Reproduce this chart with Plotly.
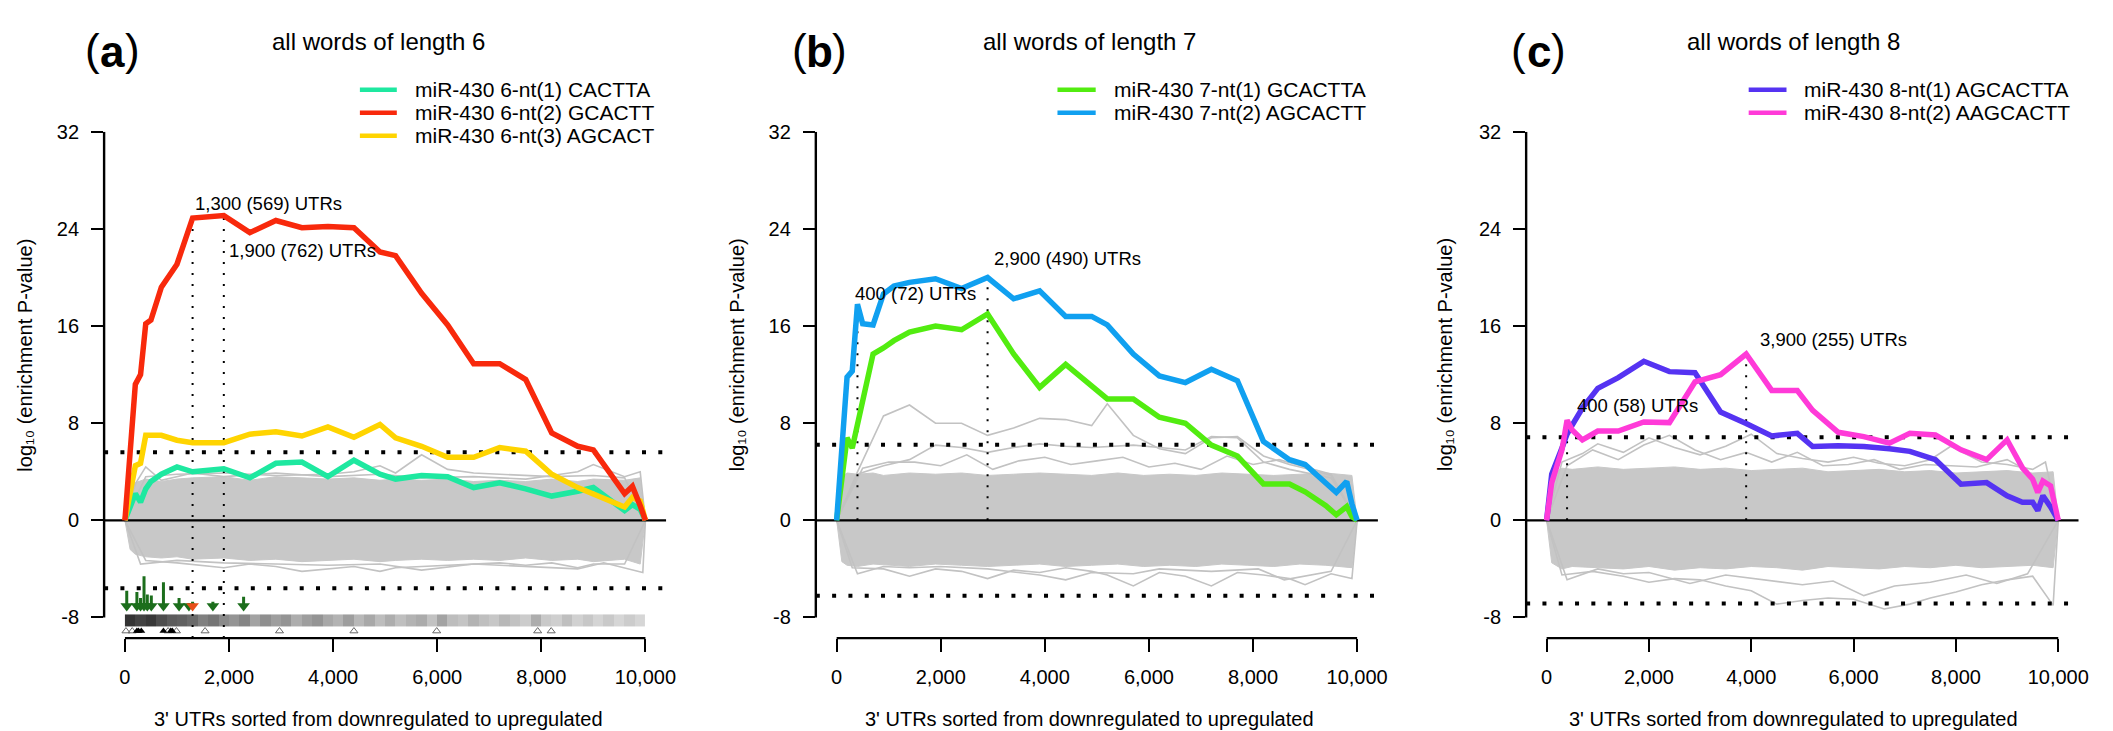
import plotly.graph_objects as go

FIG_W, FIG_H = 2113, 731
FONT = "Liberation Sans, Arial, Helvetica, sans-serif"

# ---------------- shared axes ----------------
X_TICKS = [0, 2000, 4000, 6000, 8000, 10000]
X_TICK_TEXT = ["0", "2,000", "4,000", "6,000", "8,000", "10,000"]
Y_TICKS = [-8, 0, 8, 16, 24, 32]
Y_TICK_TEXT = ["-8", "0", "8", "16", "24", "32"]
X_RANGE = [-400, 10400]
Y_RANGE = [-9.7, 32]

# ---------------- panel (a): words of length 6 ----------------
A_X = [0, 200, 300, 400, 500, 700, 1000, 1300, 1900, 2400, 2900, 3400, 3900, 4400,
       4900, 5200, 5700, 6200, 6700, 7200, 7700, 8200, 8700, 9000, 9600, 9750, 9900, 10000]
A_CACTTA = [0, 2.2, 1.5, 2.6, 3.2, 3.8, 4.4, 4.0, 4.25, 3.5, 4.7, 4.8, 3.6, 4.95,
            3.8, 3.4, 3.7, 3.6, 2.7, 3.1, 2.6, 2.0, 2.4, 2.7, 0.8, 1.3, 0.9, 0]
A_GCACTT = [0, 11.2, 12.0, 16.2, 16.5, 19.2, 21.1, 24.9, 25.1, 23.7, 24.7, 24.1, 24.2, 24.1,
            22.1, 21.8, 18.7, 16.1, 12.9, 12.9, 11.6, 7.2, 6.1, 5.8, 2.2, 2.8, 1.2, 0]
A_AGCACT = [0, 4.5, 4.7, 7.0, 7.0, 7.0, 6.6, 6.4, 6.4, 7.1, 7.3, 6.95, 7.7, 6.85,
            7.9, 6.8, 6.1, 5.2, 5.2, 6.0, 5.7, 3.8, 2.7, 2.2, 1.1, 1.9, 1.6, 0]
A_THRESH = 5.6
A_MARKS = [1300, 1900]
A_MARK_TEXT = ["1,300 (569) UTRs", "1,900 (762) UTRs"]
A_MARK_TEXT_POS = [(1300, 26.1), (1960, 22.2)]

A_BAND_X = [0, 100, 200, 400, 700, 1000, 1300, 1900, 2400, 2900, 3400, 3900, 4400, 4900,
            5200, 5700, 6200, 6700, 7200, 7700, 8200, 8700, 9000, 9600, 9900, 10000]
A_BAND_HI = [0, 2.6, 3.1, 3.4, 3.2, 3.4, 3.5, 3.6, 3.3, 3.6, 3.5, 3.4, 3.5, 3.3,
             3.4, 3.3, 3.4, 3.2, 3.3, 3.2, 3.4, 3.2, 3.4, 3.3, 3.5, 0]
A_BAND_LO = [0, -2.4, -2.8, -3.0, -3.1, -3.0, -3.2, -3.1, -3.3, -3.2, -3.4, -3.3, -3.2, -3.4,
             -3.3, -3.2, -3.3, -3.2, -3.3, -3.1, -3.3, -3.2, -3.4, -3.2, -3.6, 0]
A_BG = [
    ([0, 400, 1000, 1900, 2900, 3900, 4400, 4900, 5200, 5700, 6200, 6700, 7200, 8200, 9000, 9600, 10000],
     [0, 3.6, 3.8, 3.9, 3.7, 3.8, 4.0, 4.5, 3.9, 5.4, 4.2, 3.9, 3.8, 3.6, 3.7, 3.5, 0]),
    ([0, 200, 400, 700, 1300, 1900, 2900, 3900, 4900, 5700, 6700, 7700, 8200, 8700, 9000, 9600, 9900, 10000],
     [0, 3.0, 4.4, 3.3, 3.9, 3.6, 3.9, 3.6, 3.8, 3.5, 3.6, 3.4, 3.7, 4.0, 4.6, 3.6, 4.0, 0]),
    ([0, 400, 1000, 1900, 2400, 2900, 3400, 3900, 4400, 4900, 5200, 5700, 6200, 6700, 7200, 7700, 8200, 8700, 9000, 9600, 10000],
     [0, -3.3, -3.5, -3.9, -3.6, -3.8, -4.2, -4.0, -3.8, -4.2, -3.9, -3.8, -3.7, -3.6, -3.5, -3.7, -3.5, -3.9, -3.6, -3.6, 0]),
    ([0, 300, 1000, 1900, 2900, 3900, 4900, 5700, 6700, 7700, 8700, 9200, 9600, 9950, 10000],
     [0, -3.6, -3.3, -3.5, -3.6, -3.7, -3.6, -4.1, -3.6, -3.8, -4.0, -3.5, -3.9, -4.3, 0]),
]

# site arrows under panel (a)
ARROW_X = [35, 230, 300, 367, 430, 507, 740, 1040, 1230, 1300, 1690, 2280]
ARROW_TOP = [-5.8, -5.9, -6.4, -4.6, -6.1, -6.2, -5.1, -6.4, -6.8, -6.7, -6.7, -6.3]
ARROW_COLOR = ["#1C6E1C"] * 9 + ["#E8501A", "#1C6E1C", "#1C6E1C"]
# barcode strip (darkness per 200-unit block)
STRIP_EDGES = list(range(0, 10001, 200))
STRIP_DARK = [0.8, 0.74, 0.78, 0.7, 0.64, 0.62, 0.58, 0.5, 0.54, 0.46,
              0.42, 0.48, 0.36, 0.44, 0.38, 0.42, 0.32, 0.38, 0.42, 0.34,
              0.3, 0.38, 0.28, 0.34, 0.26, 0.32, 0.25, 0.3, 0.33, 0.24,
              0.36, 0.26, 0.23, 0.3, 0.25, 0.22, 0.28, 0.24, 0.2, 0.32,
              0.21, 0.19, 0.25, 0.18, 0.22, 0.17, 0.21, 0.16, 0.2, 0.16]
OPEN_TRI_X = [20, 140, 830, 990, 1540, 2970, 4400, 5990, 7930, 8190]
FILLED_TRI_X = [230, 260, 315, 740, 880, 910]

# ---------------- panel (b): words of length 7 ----------------
B_X = [0, 200, 300, 400, 500, 700, 900, 1100, 1400, 1900, 2400, 2900, 3400, 3900, 4400,
       4900, 5200, 5700, 6200, 6700, 7200, 7700, 8200, 8700, 9000, 9400, 9600, 9800, 9900, 10000]
B_GCACTTA = [0, 6.8, 5.95, 7.8, 9.8, 13.7, 14.2, 14.8, 15.5, 16.0, 15.7, 17.0, 13.7, 10.95, 12.85,
             11.0, 10.0, 10.0, 8.5, 8.0, 6.2, 5.3, 3.0, 3.0, 2.35, 1.2, 0.46, 1.14, 0.3, 0]
B_AGCACTT = [0, 11.8, 12.3, 17.8, 16.2, 16.1, 18.65, 19.3, 19.6, 19.9, 19.1, 20.0, 18.25, 18.9, 16.8,
             16.8, 16.1, 13.7, 11.9, 11.35, 12.45, 11.5, 6.5, 5.0, 4.6, 3.0, 2.3, 3.2, 1.35, 0]
B_THRESH = 6.22
B_MARKS = [400, 2900]
B_MARK_TEXT = ["400 (72) UTRs", "2,900 (490) UTRs"]
B_MARK_TEXT_POS = [(310, 18.65), (2980, 21.6)]

B_BAND_X = [0, 100, 200, 400, 700, 900, 1400, 1900, 2400, 2900, 3400, 3900, 4400, 4900,
            5400, 5900, 6400, 6900, 7400, 7900, 8400, 8900, 9400, 9900, 10000]
B_BAND_HI = [0, 3.6, 3.9, 3.8, 3.9, 3.7, 3.9, 3.8, 3.9, 3.7, 3.8, 3.9, 3.8, 3.7,
             3.9, 3.7, 3.8, 3.7, 3.9, 3.8, 3.7, 3.8, 3.9, 3.7, 0]
B_BAND_LO = [0, -3.4, -3.7, -3.8, -3.6, -3.7, -3.8, -3.6, -3.7, -3.8, -3.7, -3.6, -3.8, -3.7,
             -3.6, -3.8, -3.7, -3.8, -3.6, -3.7, -3.8, -3.6, -3.7, -3.9, 0]
B_BG = [
    ([0, 400, 900, 1400, 1900, 2400, 2900, 3400, 3900, 4400, 4900, 5200, 5700, 6200, 6700, 7200, 7700, 8200, 8700, 9000, 9500, 10000],
     [0, 4.0, 8.6, 9.5, 8.0, 8.0, 7.0, 7.6, 8.4, 8.3, 7.8, 9.6, 7.0, 5.9, 5.5, 6.8, 6.9, 5.3, 4.6, 4.3, 3.7, 0]),
    ([0, 400, 900, 1400, 1900, 2400, 2900, 3400, 3900, 4400, 4900, 5700, 6200, 6700, 7200, 7700, 8200, 8700, 9500, 10000],
     [0, 3.8, 4.5, 5.0, 6.2, 6.0, 5.6, 6.0, 6.3, 6.1, 6.0, 6.2, 6.0, 5.8, 6.9, 6.8, 4.8, 4.2, 3.5, 0]),
    ([0, 500, 1000, 1500, 2000, 2500, 3000, 3500, 4000, 4500, 5000, 5500, 6000, 6500, 7000, 7500, 8000, 8500, 9000, 9500, 10000],
     [0, 4.3, 4.8, 4.8, 4.5, 5.4, 4.2, 4.9, 5.2, 4.6, 4.9, 5.2, 4.4, 4.7, 4.2, 5.3, 4.6, 5.0, 4.4, 3.8, 0]),
    ([0, 300, 900, 1400, 1900, 2400, 2900, 3400, 3900, 4400, 4900, 5200, 5700, 6200, 6700, 7200, 7700, 8200, 8700, 9000, 9500, 9900, 10000],
     [0, -3.9, -4.0, -4.6, -4.0, -4.2, -4.8, -4.1, -4.3, -3.9, -4.2, -4.5, -5.4, -4.3, -4.6, -5.4, -4.3, -4.5, -4.8, -5.3, -4.4, -4.8, 0]),
    ([0, 400, 900, 1400, 2000, 2900, 3900, 4400, 4900, 5700, 6200, 7200, 8100, 8600, 9500, 10000],
     [0, -4.4, -3.8, -3.9, -3.8, -4.0, -4.5, -4.9, -4.3, -4.4, -4.0, -4.2, -4.0, -4.9, -4.2, 0]),
]

# ---------------- panel (c): words of length 8 ----------------
C_X = [0, 100, 300, 400, 500, 700, 1000, 1400, 1900, 2400, 2900, 3400, 3900, 4400, 4900,
       5200, 5700, 6200, 6700, 7100, 7600, 8100, 8600, 9000, 9300, 9500, 9600, 9700, 9850, 10000]
C_AGCACTTA = [0, 3.8, 5.95, 7.1, 7.84, 9.25, 10.87, 11.76, 13.1, 12.25, 12.16, 8.92, 7.98, 6.95, 7.17,
              6.08, 6.14, 6.08, 5.9, 5.68, 5.0, 2.98, 3.11, 2.03, 1.49, 1.49, 0.81, 2.03, 1.1, 0]
C_AAGCACTT = [0, 3.1, 5.8, 8.25, 7.44, 6.63, 7.36, 7.36, 8.1, 8.05, 11.4, 12.0, 13.7, 10.7, 10.7,
              9.06, 7.25, 6.9, 6.36, 7.17, 7.03, 5.81, 5.0, 6.63, 4.33, 3.39, 2.3, 3.24, 2.84, 0]
C_THRESH = 6.84
C_MARKS = [400, 3900]
C_MARK_TEXT = ["400 (58) UTRs", "3,900 (255) UTRs"]
C_MARK_TEXT_POS = [(560, 9.46), (4130, 14.87)]

C_BAND_X = [0, 100, 300, 500, 1000, 1500, 2000, 2500, 3000, 3500, 4000, 4500, 5000, 5500,
            6000, 6500, 7000, 7500, 8000, 8500, 9000, 9500, 9900, 10000]
C_BAND_HI = [0, 3.8, 4.3, 4.2, 4.4, 4.2, 4.3, 4.4, 4.2, 4.3, 4.1, 4.2, 4.3, 4.0,
             4.1, 4.2, 4.0, 4.1, 3.9, 4.0, 4.1, 3.9, 4.0, 0]
C_BAND_LO = [0, -3.5, -4.0, -3.8, -3.9, -4.0, -3.8, -4.1, -3.9, -4.0, -3.8, -3.9, -4.1, -3.8,
             -3.9, -4.0, -3.8, -3.9, -3.7, -3.9, -3.8, -3.7, -3.9, 0]
C_BG = [
    ([0, 300, 700, 1000, 1500, 2000, 2500, 3000, 3500, 4000, 4500, 5000, 5500, 6000, 6500, 7000, 7500, 7900, 8500, 9000, 9500, 9750, 10000],
     [0, 4.8, 5.5, 6.3, 5.6, 6.8, 6.0, 5.4, 6.1, 7.1, 5.5, 5.1, 4.8, 5.2, 4.7, 4.5, 5.0, 6.1, 4.8, 4.6, 4.2, 4.8, 0]),
    ([0, 400, 900, 1400, 1900, 2400, 2900, 3400, 3900, 4400, 4900, 5400, 5900, 6400, 6900, 7400, 8400, 9000, 9400, 10000],
     [0, 4.5, 5.8, 5.0, 6.2, 7.0, 5.8, 5.0, 5.6, 4.8, 5.6, 4.5, 4.6, 5.0, 4.2, 4.6, 4.4, 5.0, 4.1, 0]),
    ([0, 300, 900, 1500, 2000, 2500, 3000, 3500, 4000, 4500, 5000, 5500, 6000, 6600, 7100, 7500, 8000, 8500, 9000, 9500, 9900, 10000],
     [0, -4.5, -4.2, -4.6, -5.1, -4.8, -4.9, -5.4, -5.8, -6.9, -6.6, -6.4, -6.5, -7.3, -6.9, -6.4, -5.9, -5.3, -4.9, -4.6, -7.0, 0]),
    ([0, 400, 1000, 1500, 2000, 2800, 3500, 4200, 5000, 5600, 6200, 6800, 7500, 8200, 8800, 9400, 10000],
     [0, -4.9, -4.0, -4.4, -4.3, -5.2, -4.5, -4.9, -5.3, -5.0, -6.2, -5.4, -5.1, -4.5, -5.2, -4.4, 0]),
]

# ---------------- colours ----------------
GREY_BAND = "#C8C8C8"
GREY_LINE = "#C2C2C2"
COL = {
    "6-1": "#1EE8A0", "6-2": "#F8290C", "6-3": "#FFD400",
    "7-1": "#52EC10", "7-2": "#10A0F0",
    "8-1": "#5533F2", "8-2": "#FF3AD8",
}

# ---------------- layout geometry (pixels) ----------------
PLOT_TOP, PLOT_BOTTOM = 122.7, 636.7
panels = [
    dict(xa="x", ya="y", dom=(104.6, 669.4), tag="a", title="all words of length 6",
         title_x=380, tag_x=113, ytitle_x=25, leg_line=(361.6, 398.7), leg_text=415,
         x=A_X, series=[("miR-430 6-nt(1) CACTTA", A_CACTTA, COL["6-1"]),
                        ("miR-430 6-nt(2) GCACTT", A_GCACTT, COL["6-2"]),
                        ("miR-430 6-nt(3) AGCACT", A_AGCACT, COL["6-3"])],
         draw_order=[0, 2, 1], mark_series=1, marks=A_MARKS, mark_text=A_MARK_TEXT,
         mark_pos=A_MARK_TEXT_POS, mark_from_bottom=True, thresh=A_THRESH,
         band=(A_BAND_X, A_BAND_HI, A_BAND_LO), bg=A_BG),
    dict(xa="x2", ya="y2", dom=(819.7, 1384.5), tag="b", title="all words of length 7",
         title_x=1094.5, tag_x=823, ytitle_x=740, leg_line=(1062.5, 1100.9), leg_text=1117.4,
         x=B_X, series=[("miR-430 7-nt(1) GCACTTA", B_GCACTTA, COL["7-1"]),
                        ("miR-430 7-nt(2) AGCACTT", B_AGCACTT, COL["7-2"])],
         draw_order=[0, 1], mark_series=1, marks=B_MARKS, mark_text=B_MARK_TEXT,
         mark_pos=B_MARK_TEXT_POS, mark_from_bottom=False, thresh=B_THRESH,
         band=(B_BAND_X, B_BAND_HI, B_BAND_LO), bg=B_BG),
    dict(xa="x3", ya="y3", dom=(1533.4, 2088.6), tag="c", title="all words of length 8",
         title_x=1802, tag_x=1546, ytitle_x=1452, leg_line=(1757, 1795), leg_text=1810.7,
         x=C_X, series=[("miR-430 8-nt(1) AGCACTTA", C_AGCACTTA, COL["8-1"]),
                        ("miR-430 8-nt(2) AAGCACTT", C_AAGCACTT, COL["8-2"])],
         draw_order=[0, 1], mark_series=1, marks=C_MARKS, mark_text=C_MARK_TEXT,
         mark_pos=C_MARK_TEXT_POS, mark_from_bottom=False, thresh=C_THRESH,
         band=(C_BAND_X, C_BAND_HI, C_BAND_LO), bg=C_BG),
]
LEGEND_ROWS = [80, 103.3, 126.7]


def fx(px):
    return px / FIG_W


def fy(py):
    return 1 - py / FIG_H


def label(x, y, text, size, xanchor="center", weight="normal", angle=0):
    return dict(x=x, y=y, xref="paper", yref="paper", text=text, showarrow=False,
                xanchor=xanchor, yanchor="middle", textangle=angle,
                font=dict(size=size, color="black", family=FONT, weight=weight))


fig = go.Figure()
shapes, annotations = [], []
layout_axes = {}

for p in panels:
    xa, ya = p["xa"], p["ya"]

    # background: band of all other words plus a few stray ones
    bx, hi, lo = p["band"]
    fig.add_trace(go.Scatter(x=bx + bx[::-1], y=hi + lo[::-1], xaxis=xa, yaxis=ya,
                             mode="lines", fill="toself", fillcolor=GREY_BAND,
                             line=dict(width=1, color=GREY_BAND), hoverinfo="skip",
                             showlegend=False))
    for gx, gy in p["bg"]:
        fig.add_trace(go.Scatter(x=gx, y=gy, xaxis=xa, yaxis=ya, mode="lines",
                                 line=dict(width=1.6, color=GREY_LINE), hoverinfo="skip",
                                 showlegend=False))

    if p["tag"] == "a":
        # barcode strip of sorted UTRs
        fig.add_trace(go.Heatmap(x=STRIP_EDGES, y=[-8.75, -7.75], z=[STRIP_DARK],
                                 xaxis=xa, yaxis=ya, zmin=0, zmax=1, showscale=False,
                                 colorscale=[[0, "#FFFFFF"], [1, "#000000"]], hoverinfo="skip"))

    # significance thresholds and zero line
    for level in (p["thresh"], -p["thresh"]):
        fig.add_trace(go.Scatter(x=X_RANGE, y=[level, level], xaxis=xa, yaxis=ya, mode="lines",
                                 line=dict(color="black", width=4, dash="4px,12.3px"),
                                 hoverinfo="skip", showlegend=False))
    fig.add_trace(go.Scatter(x=X_RANGE, y=[0, 0], xaxis=xa, yaxis=ya, mode="lines",
                             line=dict(color="black", width=2.2), hoverinfo="skip",
                             showlegend=False))

    # vertical markers at the labelled cut-offs
    xs = p["x"]
    for i, m in enumerate(p["marks"]):
        mark_y = p["series"][p["mark_series"]][1][xs.index(m)]
        y0 = Y_RANGE[0] if p["mark_from_bottom"] else 0
        fig.add_trace(go.Scatter(x=[m, m], y=[y0, mark_y], xaxis=xa, yaxis=ya, mode="lines",
                                 line=dict(color="black", width=2, dash="2px,9px"),
                                 hoverinfo="skip", showlegend=False))
        tx, ty = p["mark_pos"][i]
        annotations.append(dict(x=tx, y=ty, xref=xa, yref=ya, text=p["mark_text"][i],
                                showarrow=False, xanchor="left", yanchor="middle",
                                font=dict(size=18.5, color="black", family=FONT)))

    if p["tag"] == "a":
        sx, sy = [], []
        for ax_, top in zip(ARROW_X, ARROW_TOP):
            sx += [ax_, ax_, None]
            sy += [top, -7.0, None]
        fig.add_trace(go.Scatter(x=sx, y=sy, xaxis=xa, yaxis=ya, mode="lines",
                                 line=dict(color="#1C6E1C", width=3), hoverinfo="skip",
                                 showlegend=False))
        fig.add_trace(go.Scatter(x=ARROW_X, y=[-7.05] * len(ARROW_X), xaxis=xa, yaxis=ya,
                                 mode="markers", marker=dict(symbol="triangle-down", size=11,
                                                             color=ARROW_COLOR, line=dict(width=0)),
                                 hoverinfo="skip", showlegend=False))
        fig.add_trace(go.Scatter(x=OPEN_TRI_X, y=[-9.12] * len(OPEN_TRI_X), xaxis=xa, yaxis=ya,
                                 mode="markers", marker=dict(symbol="triangle-up-open", size=7,
                                                             color="#666666", line=dict(width=1)),
                                 hoverinfo="skip", showlegend=False))
        fig.add_trace(go.Scatter(x=FILLED_TRI_X, y=[-9.12] * len(FILLED_TRI_X), xaxis=xa, yaxis=ya,
                                 mode="markers", marker=dict(symbol="triangle-up", size=7,
                                                             color="black"),
                                 hoverinfo="skip", showlegend=False))

    # miR-430 seed words
    for k in p["draw_order"]:
        name, ys, color = p["series"][k]
        fig.add_trace(go.Scatter(x=xs, y=ys, xaxis=xa, yaxis=ya, mode="lines", name=name,
                                 line=dict(color=color, width=5.5), showlegend=False))

    # legend
    for row, (name, ys, color) in enumerate(p["series"]):
        ry = LEGEND_ROWS[row]
        shapes.append(dict(type="line", xref="paper", yref="paper",
                           x0=fx(p["leg_line"][0]), x1=fx(p["leg_line"][1]), y0=fy(ry), y1=fy(ry),
                           line=dict(color=color, width=4.5)))
        annotations.append(label(fx(p["leg_text"]), fy(ry), name, 21, xanchor="left"))

    # axis lines drawn over the tick span only
    shapes.append(dict(type="line", xref=f"{xa} domain", yref=ya, x0=0, x1=0, y0=-8, y1=32,
                       line=dict(color="black", width=2.4)))
    shapes.append(dict(type="line", xref=xa, yref=f"{ya} domain", x0=0, x1=10000, y0=0, y1=0,
                       line=dict(color="black", width=2.4)))

    # titles and panel tag
    annotations.append(label(fx(p["title_x"]), fy(31), p["title"], 24))
    annotations.append(label(fx(p["tag_x"]), fy(41), p["tag"], 44, weight="bold"))
    annotations.append(label(fx(p["tag_x"] - 10.5), fy(39), "(", 44, xanchor="right"))
    annotations.append(label(fx(p["tag_x"] + 10.5), fy(39), ")", 44, xanchor="left"))
    annotations.append(label(fx(p["title_x"]), fy(719),
                             "3' UTRs sorted from downregulated to upregulated", 20))
    annotations.append(label(fx(p["ytitle_x"]), fy(349), "log₁₀ (enrichment P-value)", 20,
                             angle=-90))

    xkey = "xaxis" + xa[1:]
    ykey = "yaxis" + ya[1:]
    layout_axes[xkey] = dict(domain=[fx(p["dom"][0]), fx(p["dom"][1])], range=X_RANGE,
                             anchor=ya, showgrid=False, zeroline=False, showline=False,
                             tickvals=X_TICKS, ticktext=X_TICK_TEXT, ticks="outside",
                             ticklen=13, tickwidth=2.4, tickcolor="black", ticklabelstandoff=8,
                             tickfont=dict(size=20, color="black", family=FONT), fixedrange=True)
    layout_axes[ykey] = dict(domain=[fy(PLOT_BOTTOM), fy(PLOT_TOP)], range=Y_RANGE,
                             anchor=xa, showgrid=False, zeroline=False, showline=False,
                             tickvals=Y_TICKS, ticktext=Y_TICK_TEXT, ticks="outside",
                             ticklen=12, tickwidth=2.4, tickcolor="black", ticklabelstandoff=8,
                             tickfont=dict(size=20, color="black", family=FONT), fixedrange=True)

fig.update_layout(
    width=FIG_W, height=FIG_H,
    margin=dict(l=0, r=0, t=0, b=0),
    paper_bgcolor="white", plot_bgcolor="white",
    showlegend=False,
    shapes=shapes, annotations=annotations,
    font=dict(family=FONT, color="black"),
    **layout_axes,
)

fig.write_html("out.html")
